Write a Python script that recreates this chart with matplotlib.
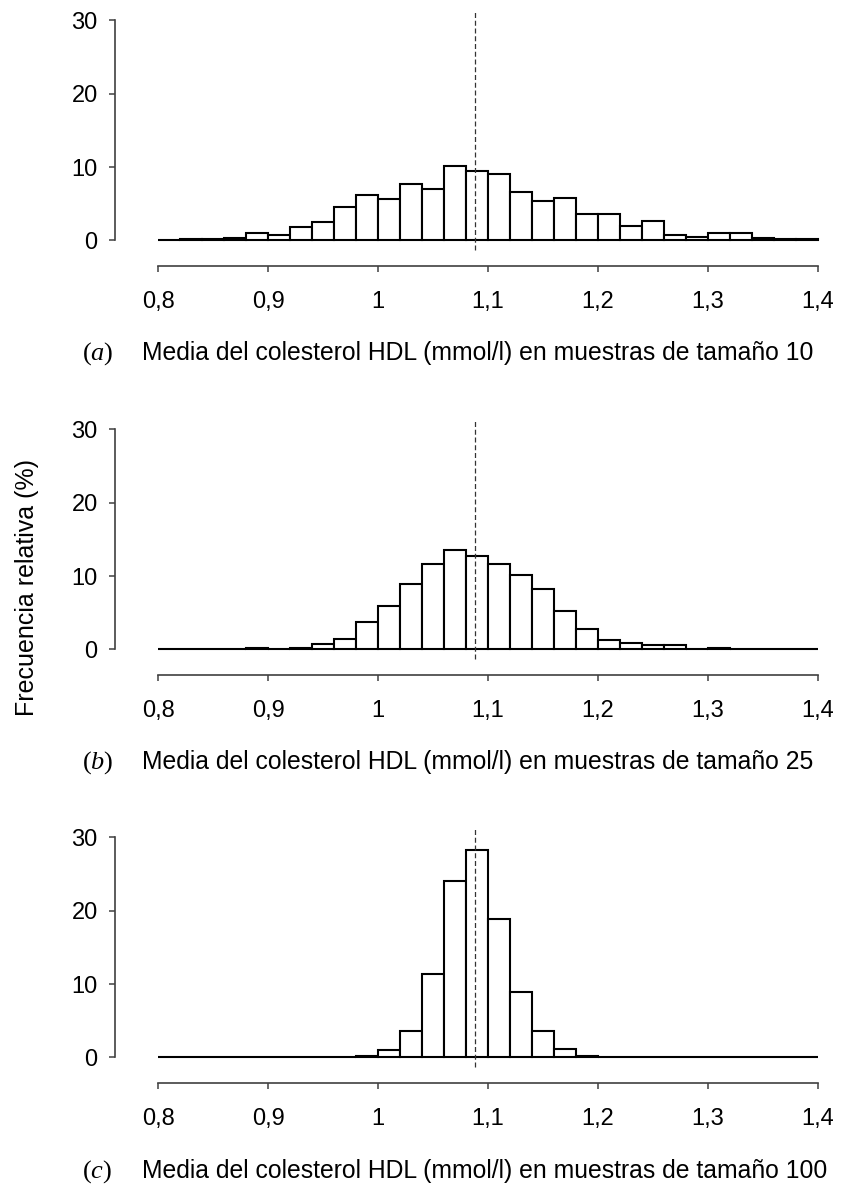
import numpy as np
import matplotlib
matplotlib.use('Agg')
import matplotlib.pyplot as plt

plt.rcParams['font.family'] = ['Liberation Sans', 'DejaVu Sans']
plt.rcParams['mathtext.fontset'] = 'custom'
plt.rcParams['mathtext.rm'] = 'Liberation Serif'
plt.rcParams['mathtext.it'] = 'Liberation Serif:italic'

# bins of 0.02 mmol/l from 0.80 to 1.40
bin_edges = np.round(np.arange(0.80, 1.40, 0.02), 2)
bin_width = 0.02
media_poblacion = 1.088

# relative frequency (%) per bin
freq_n10 = [0.1, 0.2, 0.2, 0.3, 1.0, 0.8, 1.9, 2.5, 4.6, 6.2,
            5.6, 7.7, 7.0, 10.1, 9.5, 9.0, 6.6, 5.4, 5.8, 3.6,
            3.6, 2.0, 2.7, 0.7, 0.45, 1.0, 1.0, 0.3, 0.2, 0.2]
freq_n25 = [0.05, 0.05, 0.05, 0.05, 0.2, 0.05, 0.2, 0.7, 1.4, 3.8,
            5.9, 8.9, 11.7, 13.5, 12.7, 11.7, 10.1, 8.2, 5.3, 2.8,
            1.3, 0.9, 0.6, 0.6, 0.05, 0.2, 0.05, 0.05, 0.05, 0.05]
freq_n100 = [0, 0, 0, 0, 0, 0, 0, 0, 0, 0.2,
             1.0, 3.6, 11.4, 24.0, 28.3, 18.8, 8.9, 3.6, 1.1, 0.2,
             0, 0, 0, 0, 0, 0, 0, 0, 0, 0]

x_ticks = [0.8, 0.9, 1.0, 1.1, 1.2, 1.3, 1.4]
x_ticklabels = ['0,8', '0,9', '1', '1,1', '1,2', '1,3', '1,4']
y_ticks = [0, 10, 20, 30]

paneles = ['a', 'b', 'c']
tamanos = [10, 25, 100]
series = [freq_n10, freq_n25, freq_n100]

W, H = 843, 1184
fig = plt.figure(figsize=(W / 100, H / 100), dpi=100)

tops = [10, 419, 827]          # axes top, pixels
caption_base = [360, 769, 1178]
axis_color = '#404040'

for top, cap_y, letra, n, freq in zip(tops, caption_base, paneles, tamanos, series):
    ax = fig.add_axes([115 / W, 1 - (top + 240) / H, 714 / W, 240 / H])
    ax.bar(bin_edges, freq, width=bin_width, align='edge',
           facecolor='white', edgecolor='black', linewidth=1.5, zorder=2)
    ax.axvline(media_poblacion, color='#333333', linewidth=0.9,
               dashes=(4.0, 2.2), zorder=3, clip_on=False)

    ax.set_xlim(0.7609, 1.41)
    ax.set_ylim(-1.3, 31.4)

    for s in ['top', 'right']:
        ax.spines[s].set_visible(False)
    ax.spines['left'].set_bounds(0, 30)
    ax.spines['bottom'].set_bounds(0.8, 1.4)
    ax.spines['bottom'].set_position(('data', -3.5))
    for s in ['left', 'bottom']:
        ax.spines[s].set_color(axis_color)
        ax.spines[s].set_linewidth(1.2)

    ax.set_yticks(y_ticks)
    ax.set_yticklabels([str(v) for v in y_ticks])
    ax.set_xticks(x_ticks)
    ax.set_xticklabels(x_ticklabels)
    ax.tick_params(axis='y', direction='out', length=4, width=1.1,
                   color=axis_color, pad=8.5, labelsize=17)
    ax.tick_params(axis='x', direction='out', length=4, width=1.1,
                   color=axis_color, pad=14, labelsize=17)
    ax.patch.set_visible(False)

    fig.text(82 / W, 1 - cap_y / H, r'$(\mathit{' + letra + r'})$',
             fontsize=19, ha='left', va='baseline')
    fig.text(142 / W, 1 - cap_y / H,
             f'Media del colesterol HDL (mmol/l) en muestras de tamaño {n}',
             fontsize=17.8, ha='left', va='baseline')

fig.text(27 / W, 1 - 588 / H, 'Frecuencia relativa (%)', rotation=90,
         fontsize=18, ha='center', va='center')

fig.savefig('out.png', dpi=100)
